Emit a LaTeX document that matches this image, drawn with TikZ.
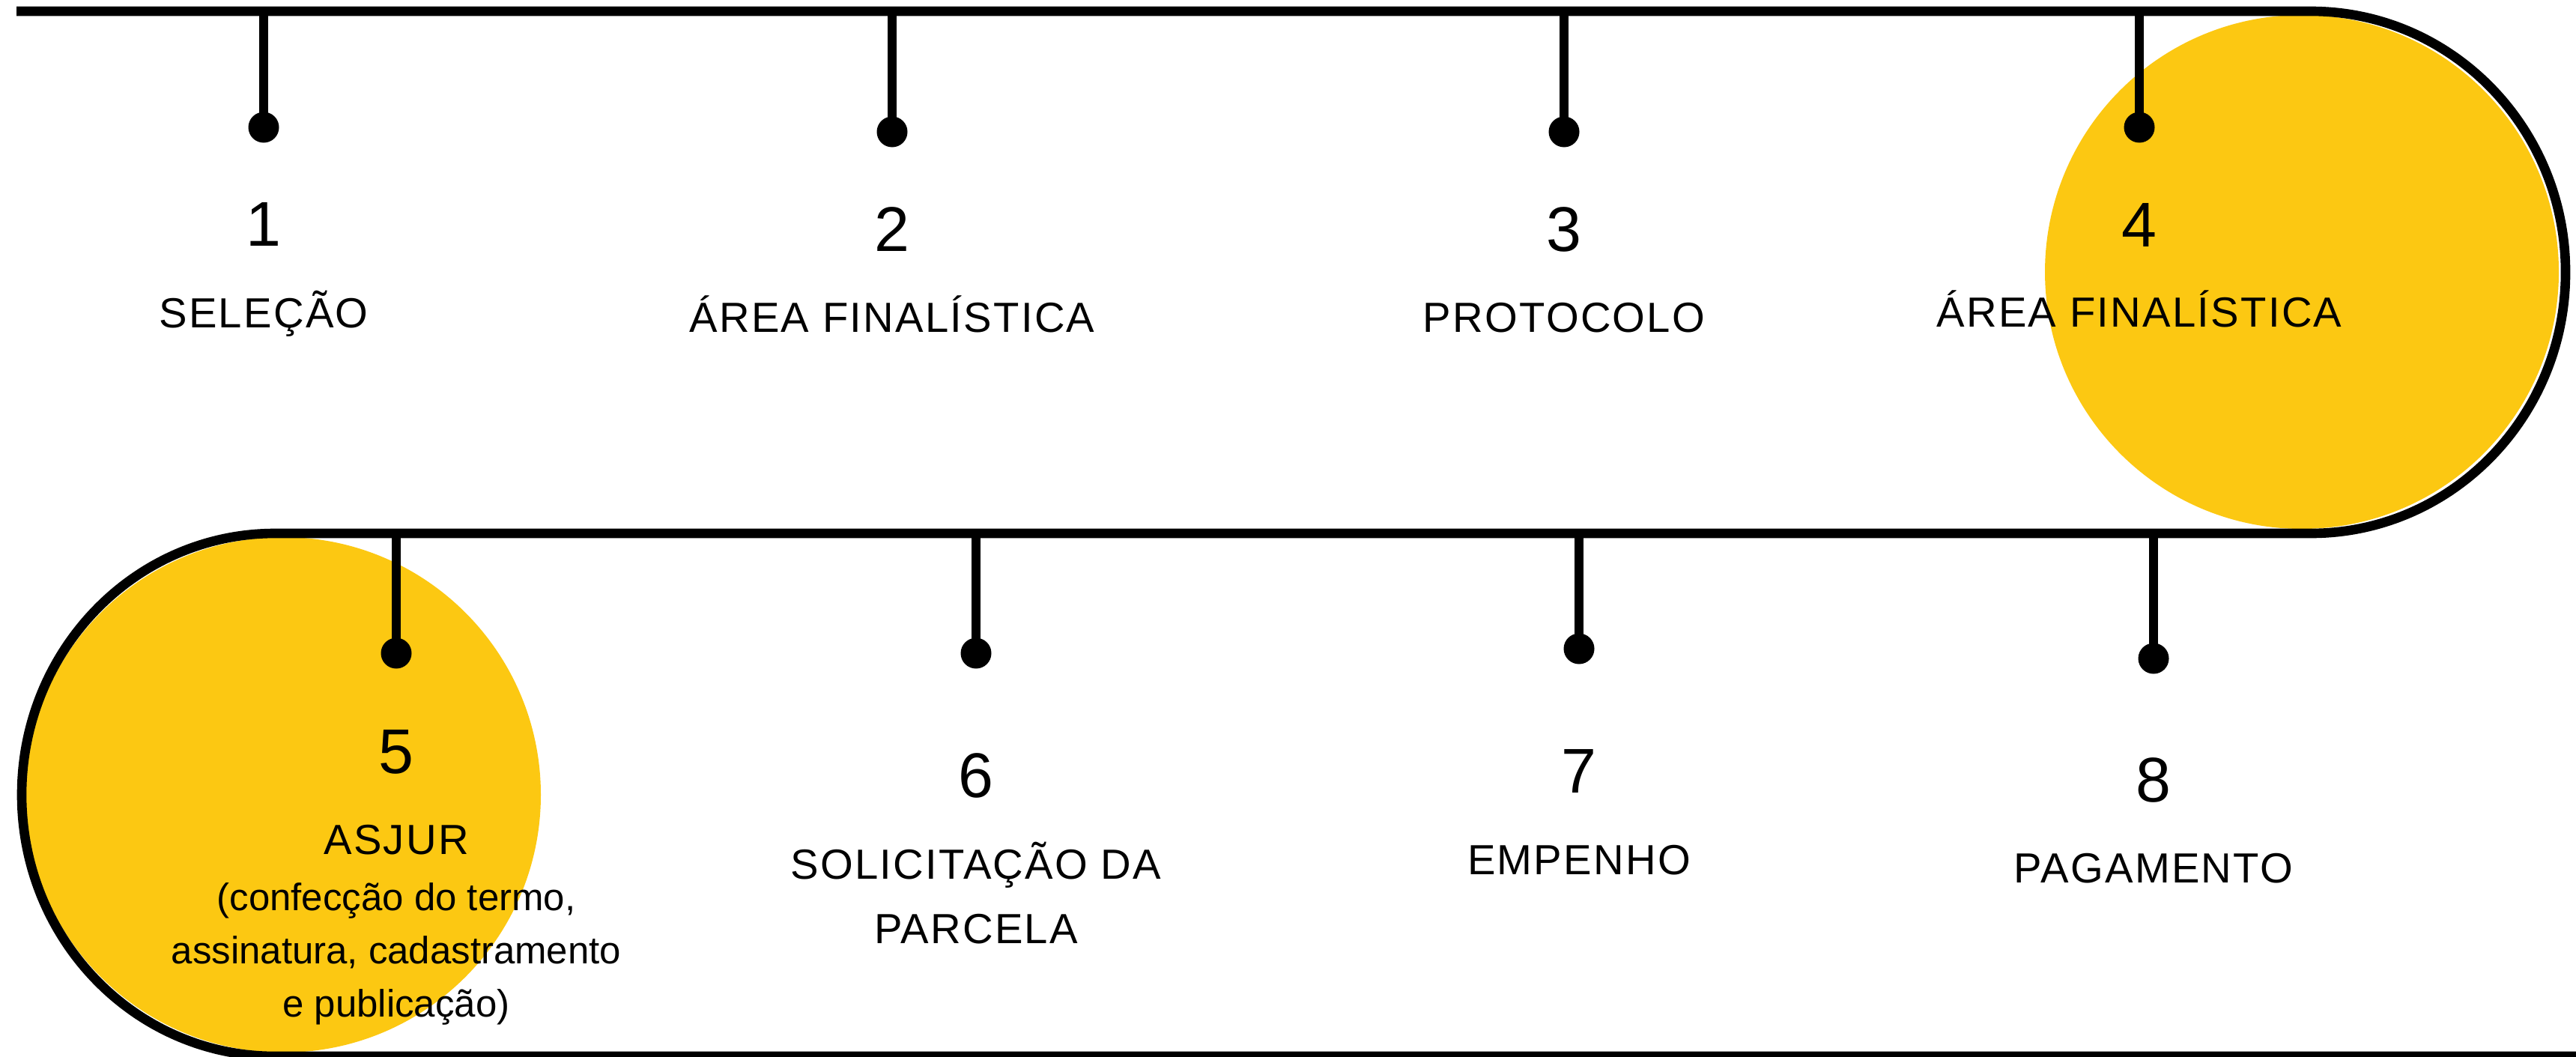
\documentclass[tikz,border=0pt]{standalone}
\usepackage{fontspec}
\setmainfont{Liberation Sans}
\newfontfamily\stepfont{Liberation Sans}[LetterSpace=4]
\definecolor{sunyellow}{HTML}{FCC812}

\begin{document}
\begin{tikzpicture}[
    rail/.style={line width=3.6pt},
    dot/.style={circle,fill=black,inner sep=0pt,minimum size=0.41cm},
    num/.style={anchor=base,font=\fontsize{24}{28}\selectfont},
    lbl/.style={anchor=base,align=center,font=\stepfont\fontsize{16}{24.4}\selectfont},
    note/.style={anchor=base,align=center,font=\fontsize{14.5}{20.2}\selectfont}
]
\useasboundingbox (0,0) rectangle (34.39,14.10);
\fill[sunyellow] (30.73,10.47) circle (3.43);
\fill[sunyellow] (3.78,3.49) circle (3.44);
\draw[rail] (0.22,13.95) -- (30.85,13.95)
    arc[start angle=90,end angle=-90,x radius=3.40,y radius=3.485]
    -- (3.67,6.98)
    arc[start angle=90,end angle=270,x radius=3.38,y radius=3.49]
    -- (34.39,0);

\path
(3.52,13.95) coordinate (t1)
(11.91,13.95) coordinate (t2)
(20.88,13.95) coordinate (t3)
(28.56,13.95) coordinate (t4)
(5.29,6.98) coordinate (t5)
(13.03,6.98) coordinate (t6)
(21.08,6.98) coordinate (t7)
(28.75,6.98) coordinate (t8)
(3.52,12.40) node[dot] (d1) {}
(11.91,12.34) node[dot] (d2) {}
(20.88,12.34) node[dot] (d3) {}
(28.56,12.40) node[dot] (d4) {}
(5.29,5.38) node[dot] (d5) {}
(13.03,5.38) node[dot] (d6) {}
(21.08,5.44) node[dot] (d7) {}
(28.75,5.31) node[dot] (d8) {}
(3.52,10.82) node[num] (n1) {1}
(11.91,10.75) node[num] (n2) {2}
(20.88,10.75) node[num] (n3) {3}
(28.56,10.81) node[num] (n4) {4}
(5.29,3.78) node[num] (n5) {5}
(13.03,3.46) node[num] (n6) {6}
(21.08,3.52) node[num] (n7) {7}
(28.75,3.40) node[num] (n8) {8}
(3.52,9.73) node[lbl] (l1) {SELEÇÃO}
(11.91,9.67) node[lbl] (l2) {ÁREA FINALÍSTICA}
(20.88,9.67) node[lbl] (l3) {PROTOCOLO}
(28.56,9.74) node[lbl] (l4) {ÁREA FINALÍSTICA}
(5.29,2.70) node[lbl] (l5) {ASJUR}
(5.29,0.53) node[note] (l5note) {(confecção do termo,\\assinatura, cadastramento\\e publicação)}
(13.03,1.51) node[lbl] (l6) {SOLICITAÇÃO DA\\PARCELA}
(21.08,2.43) node[lbl] (l7) {EMPENHO}
(28.75,2.32) node[lbl] (l8) {PAGAMENTO};

\draw[rail] (t1) -- (d1.center);
\draw[rail] (t2) -- (d2.center);
\draw[rail] (t3) -- (d3.center);
\draw[rail] (t4) -- (d4.center);
\draw[rail] (t5) -- (d5.center);
\draw[rail] (t6) -- (d6.center);
\draw[rail] (t7) -- (d7.center);
\draw[rail] (t8) -- (d8.center);
\end{tikzpicture}
\end{document}
